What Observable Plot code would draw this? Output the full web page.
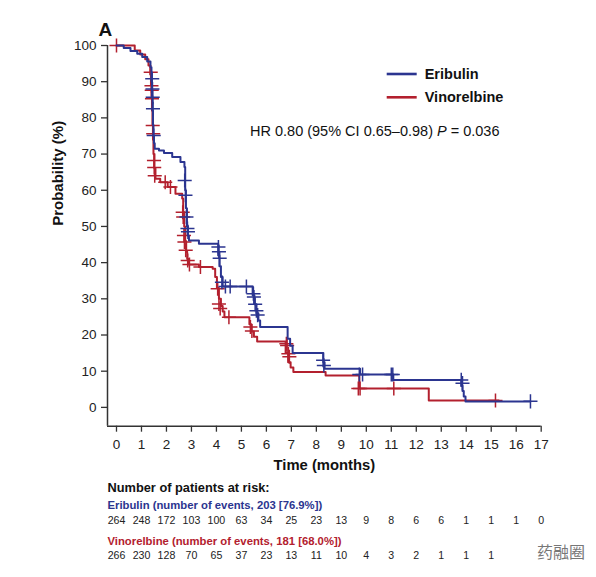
<!DOCTYPE html>
<html><head><meta charset="utf-8">
<script src="https://cdn.jsdelivr.net/npm/d3@7"></script>
<script src="https://cdn.jsdelivr.net/npm/@observablehq/plot@0.6"></script>
<style>body{margin:0;background:#fff;}</style>
</head><body><div id="chart"></div>
<script>
const seriesNames = ["Eribulin", "Vinorelbine"];
const seriesColors = ["#2b3590", "#b3202e"];
const months = d3.range(0, 18);
const yTicks = d3.range(0, 101, 10);

// [time (months), survival (%)] step points
const eribulinCurve = [[0,100],[0.29,99.3],[0.56,98.5],[0.83,97.7],[1.03,96.8],[1.23,95.6],[1.36,94],[1.4,90],[1.42,86],[1.44,82],[1.46,78],[1.48,75],[1.5,73],[1.53,71.5],[1.7,71],[1.9,70.3],[2.23,69.2],[2.56,67.8],[2.72,66.4],[2.75,60],[2.78,55],[2.82,50],[2.86,47.5],[2.9,46.1],[3.3,45.2],[4.07,42],[4.12,39],[4.18,36],[4.25,33.4],[5.45,31],[5.52,28.5],[5.6,26],[5.68,24],[5.75,22.2],[6.85,19],[6.95,17],[7.05,15],[8.28,12.5],[8.33,10.7],[9.75,9.1],[11.08,7.6],[13.8,6],[13.85,4.5],[13.9,3],[13.97,1.66],[16.57,1.66]];
const vinorelbineCurve = [[0,100],[0.73,98.6],[0.95,97.5],[1.15,96.2],[1.28,94.5],[1.35,92],[1.38,89],[1.4,86],[1.42,82],[1.44,78],[1.46,74],[1.48,70],[1.52,66],[1.56,63.2],[1.75,62.2],[2.05,60.9],[2.36,59],[2.63,57.7],[2.67,54],[2.71,50],[2.75,46],[2.79,43],[2.83,41],[2.88,39.5],[3.3,38.8],[3.85,38.3],[3.95,36],[4.02,33],[4.1,30],[4.18,28],[4.25,26.5],[4.32,24.9],[5.32,23],[5.4,21],[5.5,19.5],[5.63,18.2],[6.77,15],[6.87,12.5],[6.97,11],[7.08,9.75],[8.37,8.8],[9.72,5.2],[12.5,1.9],[15.3,1.9]];

// censored observations
const eribulinCensored = [[1.43,90.8],[1.44,88],[1.45,85.7],[1.46,82.5],[1.49,75.1],[2.73,62.7],[2.76,58.6],[2.8,52.6],[2.84,49.4],[2.86,48.5],[4.08,44.3],[4.1,43],[4.13,41.2],[4.22,34.6],[4.36,33.4],[4.55,33.4],[5.2,33.4],[5.48,31.4],[5.5,30.5],[5.55,28.5],[5.6,26.7],[5.65,25.5],[8.27,13],[8.3,11.6],[9.72,9.1],[9.85,9.1],[11.0,9.1],[11.06,9.1],[13.8,7.6],[13.85,6.7],[16.57,1.66]];
const vinorelbineCensored = [[0,100],[1.37,92.6],[1.4,88.9],[1.41,87.6],[1.42,85.3],[1.45,77.9],[1.47,75.6],[1.5,68.2],[1.51,66.3],[1.53,64],[1.95,62.2],[2.16,60.9],[2.65,53.9],[2.67,52.6],[2.7,47.5],[2.72,45.7],[2.77,43.4],[2.85,40.6],[2.92,39.5],[3.36,38.8],[4.05,32.8],[4.1,28.6],[4.15,27.3],[4.5,24.9],[5.36,22.2],[5.42,21.1],[6.8,17.6],[6.83,17.1],[6.88,14.8],[6.92,14],[9.68,5.2],[9.75,5.2],[11.1,5.2],[15.17,1.9]];

// number at risk
const eribulinAtRisk = [264,248,172,103,100,63,34,25,23,13,9,8,6,6,1,1,1,0];
const vinorelbineAtRisk = [266,230,128,70,65,37,23,13,11,10,4,3,2,1,1,1];

const riskTitle = "Number of patients at risk:";
const riskLabels = ["Eribulin (number of events, 203 [76.9%])", "Vinorelbine (number of events, 181 [68.0%])"];
const hrParts = ["HR 0.80 (95% CI 0.65\u20130.98) ", "P", " = 0.036"];
const panelLabel = "A";
const xLabel = "Time (months)";
const yLabel = "Probability (%)";
const watermark = "药融圈";

const xDomain = [-0.36, 17];
const yDomain = [-5.2, 100];
const axisColor = "#333";

function annotations(index, scales, values, dims) {
  const g = d3.create("svg:g")
    .attr("font-family", "'Liberation Sans', Arial, sans-serif")
    .attr("text-anchor", "start");
  const right = dims.width - dims.marginRight;
  seriesNames.forEach((name, i) => {
    const y = dims.marginTop + 29 + i * 23.3;
    g.append("line").attr("x1", right - 154).attr("x2", right - 124)
      .attr("y1", y).attr("y2", y).attr("stroke", seriesColors[i]).attr("stroke-width", 2.6);
    g.append("text").attr("x", right - 116).attr("y", y).attr("dy", "0.35em")
      .attr("font-weight", "bold").attr("font-size", 14.5).attr("fill", "#111").text(name);
  });
  const hr = g.append("text").attr("x", dims.marginLeft + 143).attr("y", dims.marginTop + 86)
    .attr("dy", "0.35em").attr("font-size", 14.5).attr("fill", "#111");
  hr.append("tspan").text(hrParts[0]);
  hr.append("tspan").attr("font-style", "italic").text(hrParts[1]);
  hr.append("tspan").text(hrParts[2]);
  g.append("text").attr("x", dims.width - 59).attr("y", dims.height - 25).attr("dy", "0.35em")
    .attr("font-family", "'Noto Sans CJK SC'").attr("font-size", 16).attr("fill", "#777").text(watermark);
  return g.node();
}

const chart = Plot.plot({
  width: 596,
  height: 577,
  marginLeft: 107,
  marginRight: 55.3,
  marginTop: 45,
  marginBottom: 151.3,
  style: {fontFamily: "'Liberation Sans', Arial, sans-serif", fontSize: "13.5px", color: "#222", background: "#fff"},
  x: {domain: xDomain},
  y: {domain: yDomain},
  marks: [
    Plot.axisX({ticks: months, tickSize: 6, tickPadding: 7, label: null, stroke: axisColor, strokeWidth: 1.3, fontSize: 13.5, fill: "#222"}),
    Plot.axisY({ticks: yTicks, tickSize: 6, tickPadding: 5, label: null, stroke: axisColor, strokeWidth: 1.3, fontSize: 13.5, fill: "#222"}),
    Plot.ruleX([xDomain[0]], {stroke: axisColor, strokeWidth: 1.5}),
    Plot.ruleY([yDomain[0]], {stroke: axisColor, strokeWidth: 1.5}),
    Plot.line(vinorelbineCurve, {x: d => d[0], y: d => d[1], curve: "step-after", stroke: seriesColors[1], strokeWidth: 2}),
    Plot.dot(vinorelbineCensored, {x: d => d[0], y: d => d[1], symbol: "plus", r: 4.6, stroke: seriesColors[1], strokeWidth: 1.5}),
    Plot.line(eribulinCurve, {x: d => d[0], y: d => d[1], curve: "step-after", stroke: seriesColors[0], strokeWidth: 2}),
    Plot.dot(eribulinCensored, {x: d => d[0], y: d => d[1], symbol: "plus", r: 4.6, stroke: seriesColors[0], strokeWidth: 1.5}),
    Plot.text([panelLabel], {frameAnchor: "top-left", dx: -9, dy: -23, fontWeight: "bold", fontSize: 19, fill: "#111"}),
    Plot.text([xLabel], {frameAnchor: "bottom", dy: 44, fontWeight: "bold", fontSize: 14.8, fill: "#111"}),
    Plot.text([yLabel], {frameAnchor: "left", dx: -49, dy: -10, rotate: -90, fontWeight: "bold", fontSize: 15, fill: "#111"}),
    Plot.text([riskTitle], {frameAnchor: "bottom-left", textAnchor: "start", dy: 65.5, fontWeight: "bold", fontSize: 12.8, fill: "#111"}),
    Plot.text([riskLabels[0]], {frameAnchor: "bottom-left", textAnchor: "start", dy: 82.5, fontWeight: "bold", fontSize: 11.3, fill: seriesColors[0]}),
    Plot.text(eribulinAtRisk, {x: (d, i) => months[i], text: d => String(d), frameAnchor: "bottom", dy: 97.5, fontSize: 10.6, fill: "#222"}),
    Plot.text([riskLabels[1]], {frameAnchor: "bottom-left", textAnchor: "start", dy: 118.5, fontWeight: "bold", fontSize: 11.3, fill: seriesColors[1]}),
    Plot.text(vinorelbineAtRisk, {x: (d, i) => months[i], text: d => String(d), frameAnchor: "bottom", dy: 132.5, fontSize: 10.6, fill: "#222"}),
    annotations
  ]
});
document.getElementById("chart").append(chart);
</script>
</body></html>
